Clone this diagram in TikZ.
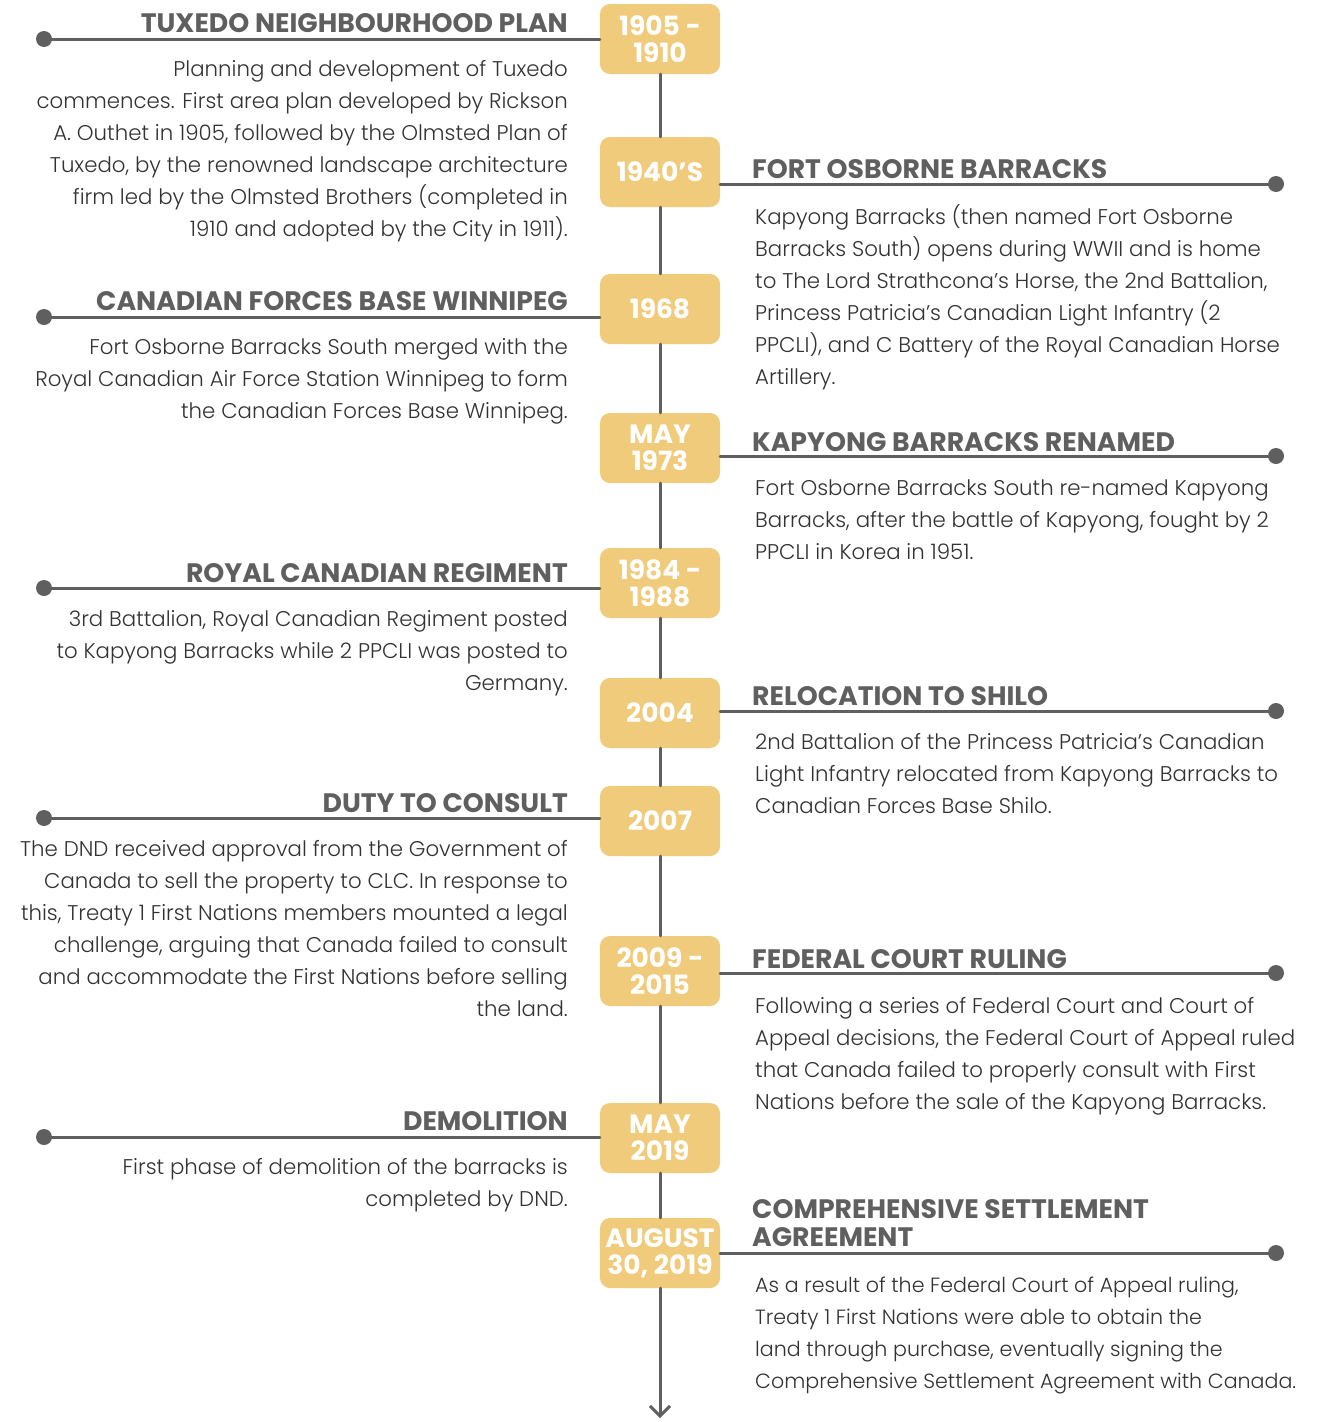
\documentclass[tikz,border=0pt]{standalone}
\usepackage{fontspec}
\setmainfont{Poppins}
\newfontfamily\nhe{Poppins Light}
\usetikzlibrary{arrows.meta}
\definecolor{vang}{RGB}{239,203,123}
\definecolor{xam}{RGB}{95,95,95}
\definecolor{chu}{RGB}{50,50,50}
\begin{document}
\begin{tikzpicture}[x=1pt, y=-1pt, line join=round, line cap=round,
	moc/.style={fill=vang, rounded corners=10pt, minimum width=120pt, minimum height=70pt, inner sep=0pt, align=center, text=white, font=\fontsize{26.5}{27}\selectfont\bfseries},
	tieude/.style={text=xam, inner sep=0pt, font=\fontsize{26.7}{28}\selectfont\bfseries},
	noidung/.style={text=chu, inner sep=0pt, font=\nhe\fontsize{21.3}{32}\selectfont},
	duong/.style={xam, line width=3pt}]
				\useasboundingbox (0,0) rectangle (1336,1422);
				% cac moc thoi gian
				\node[moc] (m1) at (660,39) {1905 -\\1910};
				\node[moc] (m2) at (660,172) {1940’S};
				\node[moc] (m3) at (660,309) {1968};
				\node[moc] (m4) at (660,448) {MAY\\1973};
				\node[moc] (m5) at (660,583) {1984 -\\1988};
				\node[moc] (m6) at (660,713) {2004};
				\node[moc] (m7) at (660,821) {2007};
				\node[moc] (m8) at (660,971) {2009 -\\2015};
				\node[moc] (m9) at (660,1138) {MAY\\2019};
				\node[moc] (m10) at (660,1253) {AUGUST\\30, 2019};
				\coordinate (cuoi) at (660,1418);
				\foreach \a/\b in {m1/m2,m2/m3,m3/m4,m4/m5,m5/m6,m6/m7,m7/m8,m8/m9,m9/m10}
					\draw[duong] (\a) -- (\b);
				\draw[duong, -{Straight Barb[length=10pt, width=20pt]}] (m10) -- (cuoi);
				% cac diem dau
				\coordinate (d1) at (44,39);
				\coordinate (d2) at (1276,184);
				\coordinate (d3) at (44,317);
				\coordinate (d4) at (1276,456);
				\coordinate (d5) at (44,588);
				\coordinate (d6) at (1276,711);
				\coordinate (d7) at (44,818);
				\coordinate (d8) at (1276,973);
				\coordinate (d9) at (44,1137);
				\coordinate (d10) at (1276,1253);
				\foreach \diem in {1,3,5,7,9} \draw[duong] (d\diem) -- (d\diem -| m\diem.west);
				\foreach \diem in {2,4,6,8,10} \draw[duong] (m\diem.east |- d\diem) -- (d\diem);
				\foreach \diem in {1,...,10} \fill[xam] (d\diem) circle (8pt);
				% ben trai
				\node[tieude, anchor=base east] (t1) at (568,32) {TUXEDO NEIGHBOURHOOD PLAN};
				\node[noidung, anchor=north east, align=right] (n1) at (568,60) {Planning and development of Tuxedo\\commences. First area plan developed by Rickson\\A. Outhet in 1905, followed by the Olmsted Plan of\\Tuxedo, by the renowned landscape architecture\\firm led by the Olmsted Brothers (completed in\\1910 and adopted by the City in 1911).};
				\node[tieude, anchor=base east] (t3) at (568,310) {CANADIAN FORCES BASE WINNIPEG};
				\node[noidung, anchor=north east, align=right] (n3) at (568,338) {Fort Osborne Barracks South merged with the\\Royal Canadian Air Force Station Winnipeg to form\\the Canadian Forces Base Winnipeg.};
				\node[tieude, anchor=base east] (t5) at (568,582) {ROYAL CANADIAN REGIMENT};
				\node[noidung, anchor=north east, align=right] (n5) at (568,610) {3rd Battalion, Royal Canadian Regiment posted\\to Kapyong Barracks while 2 PPCLI was posted to\\Germany.};
				\node[tieude, anchor=base east] (t7) at (568,812) {DUTY TO CONSULT};
				\node[noidung, anchor=north east, align=right] (n7) at (568,840) {The DND received approval from the Government of\\Canada to sell the property to CLC. In response to\\this, Treaty 1 First Nations members mounted a legal\\challenge, arguing that Canada failed to consult\\and accommodate the First Nations before selling\\the land.};
				\node[tieude, anchor=base east] (t9) at (568,1130) {DEMOLITION};
				\node[noidung, anchor=north east, align=right] (n9) at (568,1158) {First phase of demolition of the barracks is\\completed by DND.};
				% ben phai
				\node[tieude, anchor=base west] (t2) at (752,178) {FORT OSBORNE BARRACKS};
				\node[noidung, anchor=north west, align=left] (n2) at (755,204) {Kapyong Barracks (then named Fort Osborne\\Barracks South) opens during WWII and is home\\to The Lord Strathcona’s Horse, the 2nd Battalion,\\Princess Patricia’s Canadian Light Infantry (2\\PPCLI), and C Battery of the Royal Canadian Horse\\Artillery.};
				\node[tieude, anchor=base west] (t4) at (752,451) {KAPYONG BARRACKS RENAMED};
				\node[noidung, anchor=north west, align=left] (n4) at (755,480) {Fort Osborne Barracks South re-named Kapyong\\Barracks, after the battle of Kapyong, fought by 2\\PPCLI in Korea in 1951.};
				\node[tieude, anchor=base west] (t6) at (752,705) {RELOCATION TO SHILO};
				\node[noidung, anchor=north west, align=left] (n6) at (755,733) {2nd Battalion of the Princess Patricia’s Canadian\\Light Infantry relocated from Kapyong Barracks to\\Canadian Forces Base Shilo.};
				\node[tieude, anchor=base west] (t8) at (752,968) {FEDERAL COURT RULING};
				\node[noidung, anchor=north west, align=left] (n8) at (755,997) {Following a series of Federal Court and Court of\\Appeal decisions, the Federal Court of Appeal ruled\\that Canada failed to properly consult with First\\Nations before the sale of the Kapyong Barracks.};
				\node[tieude, anchor=south west, align=left] (t10) at (752,1247) {COMPREHENSIVE SETTLEMENT\\AGREEMENT};
				\node[noidung, anchor=north west, align=left, font=\nhe\fontsize{20.6}{32}\selectfont] (n10) at (755,1277) {As a result of the Federal Court of Appeal ruling,\\Treaty 1 First Nations were able to obtain the\\land through purchase, eventually signing the\\Comprehensive Settlement Agreement with Canada.};
			\end{tikzpicture}
\end{document}
